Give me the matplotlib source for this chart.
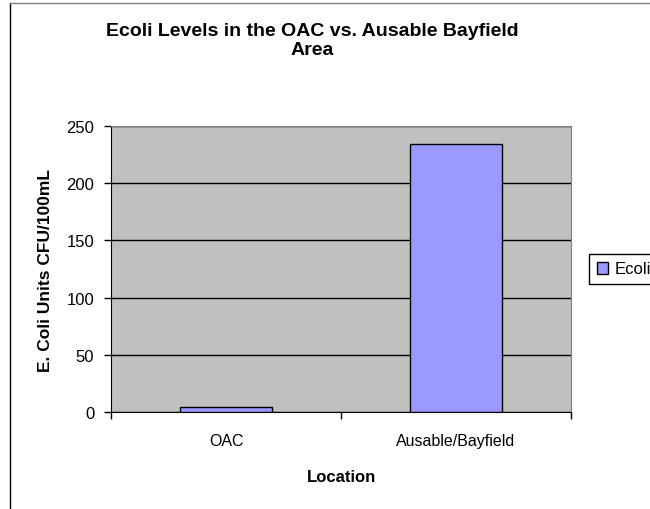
import matplotlib
matplotlib.use('Agg')
import matplotlib.pyplot as plt
from matplotlib.lines import Line2D

locations = ['OAC', 'Ausable/Bayfield']
ecoli = [4, 234]
yticks = [0, 50, 100, 150, 200, 250]

plt.rcParams['font.family'] = ['Liberation Sans', 'DejaVu Sans']

W, H = 650, 510
fig = plt.figure(figsize=(W / 100, H / 100), dpi=100)

# chart area border, only the left and top edges fall inside the picture
fig.lines.append(Line2D([9.5 / W, 9.5 / W], [0, 1 - 4 / H], transform=fig.transFigure,
                        color='black', linewidth=1))
fig.lines.append(Line2D([9.5 / W, 1], [1 - 4 / H, 1 - 4 / H], transform=fig.transFigure,
                        color='#808080', linewidth=1))

ax = fig.add_axes([111 / W, 1 - 413 / H, 460 / W, 286 / H])
ax.set_facecolor('#c0c0c0')

x = list(range(len(locations)))
ax.bar(x, ecoli, width=0.4, color='#9999ff', edgecolor='black', linewidth=1,
       label='Ecoli', zorder=3)

ax.set_xlim(-0.5, len(locations) - 0.5)
ax.set_ylim(0, 250)
ax.set_yticks(yticks)
ax.yaxis.grid(True, color='black', linewidth=1)
ax.set_axisbelow(True)

ax.set_xticks(x)
ax.set_xticklabels(locations, fontsize=11.5)
ax.set_xticks([-0.5, 0.5, 1.5], minor=True)
ax.tick_params(axis='x', which='major', length=0, pad=15)
ax.tick_params(axis='x', which='minor', length=5, width=1, color='black')
ax.tick_params(axis='y', length=5, width=1, color='black', labelsize=12, pad=7)

for s in ['top', 'right']:
    ax.spines[s].set_color('#808080')
for s in ['left', 'bottom']:
    ax.spines[s].set_color('black')

ax.set_xlabel('Location', fontsize=12, fontweight='bold', labelpad=15)
ax.set_ylabel('E. Coli Units CFU/100mL', fontsize=12.5, fontweight='bold', labelpad=10)

fig.text(312 / W, 1 - 41 / H, 'Ecoli Levels in the OAC vs. Ausable Bayfield\nArea',
         ha='center', va='center', fontsize=14, fontweight='bold', linespacing=1.15)

fig.legend(loc='center left', bbox_to_anchor=(589 / W, 1 - 270 / H), fontsize=12,
           frameon=True, fancybox=False, edgecolor='black', framealpha=1,
           borderpad=0.45, handlelength=0.7, handleheight=0.7, handletextpad=0.4,
           borderaxespad=0)

fig.savefig('out.png', dpi=100)
